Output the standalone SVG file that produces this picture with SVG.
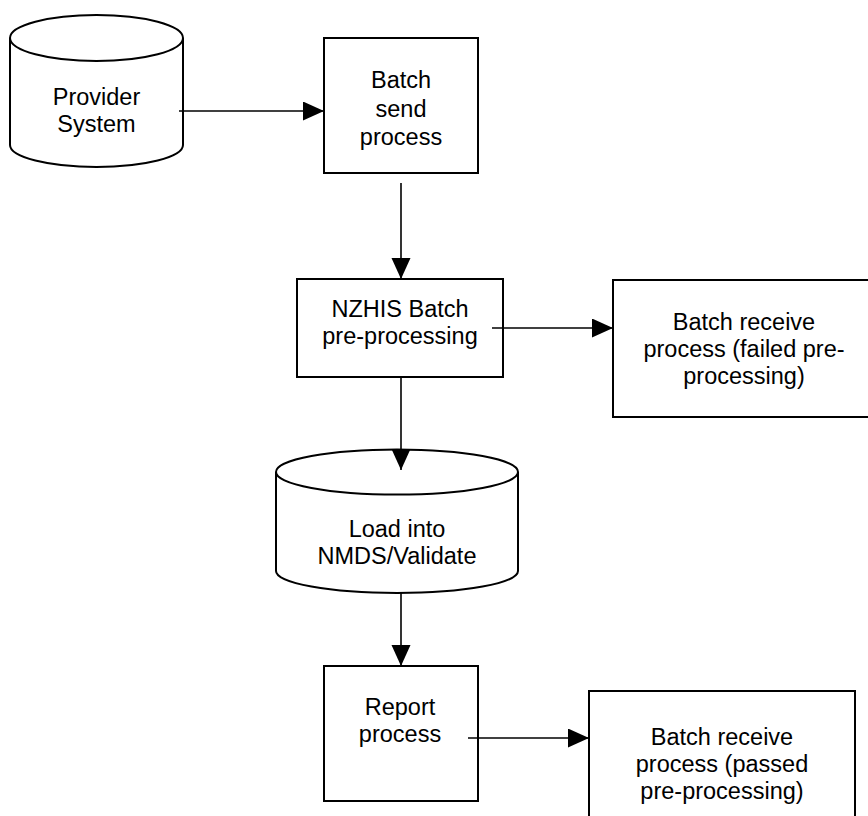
<svg xmlns="http://www.w3.org/2000/svg" width="868" height="816" viewBox="0 0 868 816">
<style>
.shape{fill:#fff;stroke:#000;stroke-width:2}
.line{fill:none;stroke:#000;stroke-width:1.6}
text{font-family:"Liberation Sans",Arial,sans-serif;font-size:23.5px;fill:#000;text-anchor:middle}
</style>
<defs>
<marker id="arr" markerUnits="userSpaceOnUse" markerWidth="22" markerHeight="20" refX="21" refY="9.5" orient="auto">
<path d="M0,0 L21,9.5 L0,19 z" fill="#000"/>
</marker>
</defs>
<rect width="868" height="816" fill="#fff"/>
<g id="provider">
<path class="shape" d="M10,38 L10,145 A86.5,22 0 0 0 183,145 L183,38"/>
<ellipse class="shape" cx="96.5" cy="38" rx="86.5" ry="23"/>
<text x="96.5" y="105">Provider</text>
<text x="96.5" y="132">System</text>
</g>
<g id="batch-send">
<rect class="shape" x="324" y="38" width="154" height="135"/>
<text x="401" y="88">Batch</text>
<text x="401" y="116.5">send</text>
<text x="401" y="145">process</text>
</g>
<g id="nzhis">
<rect class="shape" x="297" y="279" width="206" height="98"/>
<text x="400" y="317">NZHIS Batch</text>
<text x="400" y="344">pre-processing</text>
</g>
<g id="failed">
<rect class="shape" x="613" y="280" width="262" height="137"/>
<text x="744" y="330">Batch receive</text>
<text x="744" y="357">process (failed pre-</text>
<text x="744" y="384">processing)</text>
</g>
<g id="load">
<path class="shape" d="M276,472 L276,571 A121,22 0 0 0 518,571 L518,472"/>
<ellipse class="shape" cx="397" cy="472" rx="121" ry="22.5"/>
<text x="397" y="537">Load into</text>
<text x="397" y="564">NMDS/Validate</text>
</g>
<g id="report">
<rect class="shape" x="324" y="666" width="154" height="135"/>
<text x="400" y="715">Report</text>
<text x="400" y="742">process</text>
</g>
<g id="passed">
<rect class="shape" x="589" y="691" width="266" height="140"/>
<text x="722" y="745">Batch receive</text>
<text x="722" y="772">process (passed</text>
<text x="722" y="799">pre-processing)</text>
</g>
<g id="connectors">
<line class="line" x1="179" y1="111" x2="324" y2="111" marker-end="url(#arr)"/>
<line class="line" x1="401" y1="183" x2="401" y2="279" marker-end="url(#arr)"/>
<line class="line" x1="492" y1="328" x2="613" y2="328" marker-end="url(#arr)"/>
<line class="line" x1="401" y1="377" x2="401" y2="470" marker-end="url(#arr)"/>
<line class="line" x1="401" y1="593" x2="401" y2="666" marker-end="url(#arr)"/>
<line class="line" x1="468" y1="738" x2="589" y2="738" marker-end="url(#arr)"/>
</g>
</svg>
